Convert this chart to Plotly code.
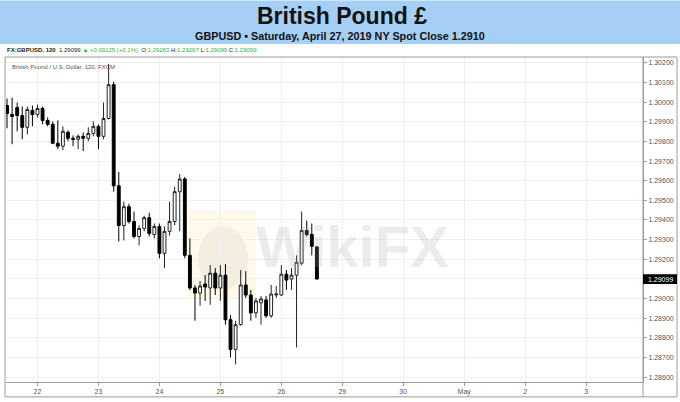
import plotly.graph_objects as go

# ---------------- data (GBPUSD, 120-minute candles) ----------------
opens = [1.29983, 1.29937, 1.29973, 1.29932, 1.29872, 1.29958, 1.29937, 1.29968, 1.29907, 1.29887,
         1.29791, 1.29776, 1.29846, 1.29816, 1.29811, 1.29826, 1.29816, 1.29841, 1.29877, 1.29826,
         1.29917, 1.30089, 1.29574, 1.29372, 1.29468, 1.29392, 1.29316, 1.29357, 1.29412, 1.29326,
         1.29367, 1.29230, 1.29342, 1.29392, 1.29544, 1.29609, 1.29220, 1.29054, 1.29028, 1.29074,
         1.29054, 1.29129, 1.29054, 1.29119, 1.28892, 1.28741, 1.28867, 1.29069, 1.29018, 1.28927,
         1.28978, 1.28993, 1.28912, 1.29018, 1.29018, 1.29124, 1.29099, 1.29119, 1.29180, 1.29347,
         1.29326, 1.29263]
highs = [1.30018, 1.30023, 1.29998, 1.29978, 1.29978, 1.29983, 1.29988, 1.29978, 1.29922, 1.29902,
         1.29907, 1.29877, 1.29857, 1.29831, 1.29836, 1.29846, 1.29872, 1.29902, 1.29887, 1.29998,
         1.30195, 1.30104, 1.29645, 1.29493, 1.29483, 1.29443, 1.29372, 1.29422, 1.29437, 1.29382,
         1.29382, 1.29367, 1.29493, 1.29569, 1.29634, 1.29619, 1.29306, 1.29069, 1.29089, 1.29119,
         1.29170, 1.29155, 1.29170, 1.29175, 1.28917, 1.28887, 1.29145, 1.29139, 1.29044, 1.29003,
         1.29013, 1.29013, 1.29069, 1.29064, 1.29170, 1.29145, 1.29155, 1.29220, 1.29443, 1.29397,
         1.29382, 1.29267]
lows = [1.29867, 1.29786, 1.29852, 1.29811, 1.29836, 1.29877, 1.29922, 1.29887, 1.29877, 1.29786,
        1.29761, 1.29756, 1.29801, 1.29776, 1.29761, 1.29751, 1.29801, 1.29826, 1.29761, 1.29811,
        1.29912, 1.29544, 1.29291, 1.29296, 1.29382, 1.29306, 1.29271, 1.29342, 1.29316, 1.29306,
        1.29205, 1.29155, 1.29321, 1.29372, 1.29342, 1.29205, 1.29044, 1.28887, 1.28963, 1.28988,
        1.28968, 1.29018, 1.28988, 1.28867, 1.28700, 1.28665, 1.28862, 1.29003, 1.28887, 1.28902,
        1.28867, 1.28902, 1.28902, 1.29003, 1.29013, 1.29044, 1.29044, 1.28751, 1.29170, 1.29316,
        1.29220, 1.29099]
closes = [1.29942, 1.29927, 1.29932, 1.29872, 1.29963, 1.29937, 1.29968, 1.29907, 1.29887, 1.29791,
          1.29776, 1.29852, 1.29816, 1.29811, 1.29826, 1.29816, 1.29841, 1.29877, 1.29826, 1.29917,
          1.30089, 1.29574, 1.29372, 1.29468, 1.29392, 1.29316, 1.29357, 1.29412, 1.29331, 1.29367,
          1.29230, 1.29342, 1.29392, 1.29544, 1.29609, 1.29220, 1.29054, 1.29028, 1.29064, 1.29059,
          1.29129, 1.29054, 1.29119, 1.28892, 1.28741, 1.28867, 1.29069, 1.29018, 1.28927, 1.28988,
          1.28998, 1.28912, 1.29023, 1.29023, 1.29124, 1.29094, 1.29119, 1.29185, 1.29347, 1.29326,
          1.29266, 1.29099]
candle_slots = list(range(len(opens)))

day_tick_slots = [6, 18, 30, 42, 54, 66, 78, 90, 102, 114]
day_tick_labels = ["22", "23", "24", "25", "26", "29", "30", "May", "2", "3"]

price_ticks = [1.286, 1.287, 1.288, 1.289, 1.290, 1.291, 1.292, 1.293, 1.294,
               1.295, 1.296, 1.297, 1.298, 1.299, 1.300, 1.301, 1.302]
price_tick_labels = ["1.28600", "1.28700", "1.28800", "1.28900", "1.29000", "", "1.29200",
                     "1.29300", "1.29400", "1.29500", "1.29600", "1.29700", "1.29800",
                     "1.29900", "1.30000", "1.30100", "1.30200"]

# ---------------- layout geometry (pixels) ----------------
W, H = 680, 402
PL, PR, PT, PB = 6, 643, 57, 385   # plot area


def px(X):
    return (X - PL) / (PR - PL)


def py(Y):
    return (PB - Y) / (PB - PT)


fig = go.Figure()
fig.add_trace(go.Candlestick(
    x=candle_slots, open=opens, high=highs, low=lows, close=closes,
    increasing=dict(line=dict(color="#222222", width=1), fillcolor="#ffffff"),
    decreasing=dict(line=dict(color="#000000", width=1), fillcolor="#000000"),
    whiskerwidth=0, showlegend=False, hoverinfo="skip",
))

grey_txt = "#555555"
fig.update_layout(
    width=W, height=H, autosize=False,
    margin=dict(l=PL, r=W - PR, t=PT, b=H - PB, pad=0),
    paper_bgcolor="#ffffff", plot_bgcolor="#ffffff",
    boxgap=0.2,
    font=dict(family="Liberation Sans, Arial, sans-serif", color=grey_txt, size=7),
    xaxis=dict(
        range=[-0.2, 125.2], rangeslider=dict(visible=False),
        tickmode="array", tickvals=day_tick_slots, ticktext=day_tick_labels,
        showgrid=True, gridcolor="#f0f0f0", gridwidth=1,
        zeroline=False, showline=True, linecolor="#9a9a9a", linewidth=1,
        ticks="outside", ticklen=3, tickcolor="#9a9a9a",
        tickfont=dict(size=7, color=grey_txt), fixedrange=True,
    ),
    yaxis=dict(
        range=[1.28575, 1.30230], side="right",
        tickmode="array", tickvals=price_ticks, ticktext=price_tick_labels,
        showgrid=True, gridcolor="#f0f0f0", gridwidth=1,
        zeroline=False, showline=True, linecolor="#9a9a9a", linewidth=1,
        ticks="outside", ticklen=3, tickcolor="#9a9a9a", ticklabelstandoff=0,
        tickfont=dict(size=7, color=grey_txt), fixedrange=True,
    ),
)

shapes = []
# header banner
shapes.append(dict(type="rect", xref="paper", yref="paper",
                   x0=px(0), x1=px(W), y0=py(44), y1=py(0),
                   fillcolor="#A6CFF6", line=dict(width=0), layer="below"))
# outer chart frame
shapes.append(dict(type="rect", xref="paper", yref="paper",
                   x0=px(5), x1=px(677), y0=py(400), y1=py(PT),
                   line=dict(color="#9a9a9a", width=1), fillcolor="rgba(0,0,0,0)"))
# price axis separator down through time axis
shapes.append(dict(type="line", xref="paper", yref="paper",
                   x0=1, x1=1, y0=py(400), y1=1,
                   line=dict(color="#9a9a9a", width=1)))
# watermark logo
shapes.append(dict(type="rect", xref="paper", yref="paper",
                   x0=px(188), x1=px(256), y0=py(300), y1=py(212),
                   fillcolor="rgba(250,215,120,0.16)", line=dict(width=0), layer="below"))
shapes.append(dict(type="circle", xref="paper", yref="paper",
                   x0=px(198), x1=px(248), y0=py(292), y1=py(228),
                   fillcolor="rgba(150,150,150,0.10)", line=dict(width=0), layer="below"))
# last price marker box on the price axis
last = closes[-1]
half = 0.00025
shapes.append(dict(type="rect", xref="paper", yref="y",
                   x0=1, x1=px(677), y0=last - half, y1=last + half,
                   fillcolor="#000000", line=dict(width=0)))
fig.update_layout(shapes=shapes)

green = "#2bb34b"
dark = "#222222"
info = (f"<b>FX:GBPUSD, 120</b>  {last:.5f} <span style='color:{green}'>▲ +0.00125 (+0.1%)</span>  "
        f"O:<span style='color:{green}'>{opens[-1]:.5f}</span> "
        f"H:<span style='color:{green}'>{highs[-1]:.5f}</span> "
        f"L:<span style='color:{green}'>{lows[-1]:.5f}</span> "
        f"C:<span style='color:{green}'>{last:.5f}</span>")

annotations = [
    dict(text="<b>British Pound £</b>", xref="paper", yref="paper", x=px(342), y=py(16),
         xanchor="center", yanchor="middle", showarrow=False,
         font=dict(size=23, color="#111111", family="Liberation Sans, Arial, sans-serif")),
    dict(text="<b>GBPUSD • Saturday, April 27, 2019 NY Spot Close 1.2910</b>", xref="paper", yref="paper",
         x=px(340), y=py(36), xanchor="center", yanchor="middle", showarrow=False,
         font=dict(size=10.8, color="#111111", family="Liberation Sans, Arial, sans-serif")),
    dict(text=info, xref="paper", yref="paper", x=px(5), y=py(50),
         xanchor="left", yanchor="middle", showarrow=False,
         font=dict(size=6, color=dark)),
    dict(text="British Pound / U.S. Dollar, 120, FXCM", xref="paper", yref="paper",
         x=px(10), y=py(67), xanchor="left", yanchor="middle", showarrow=False,
         font=dict(size=6, color="#555555")),
    dict(text="<b>WikiFX</b>", xref="paper", yref="paper", x=px(352), y=py(248),
         xanchor="center", yanchor="middle", showarrow=False,
         font=dict(size=58, color="rgba(170,170,170,0.22)")),
    dict(text=f"{last:.5f}", xref="paper", yref="y", x=px(660), y=last,
         xanchor="center", yanchor="middle", showarrow=False,
         font=dict(size=7, color="#ffffff")),
]
fig.update_layout(annotations=annotations)

fig.write_html(
    "out.html",
    config={"displayModeBar": False},
    post_script="document.body.style.margin='0';document.body.style.overflow='hidden';",
)
